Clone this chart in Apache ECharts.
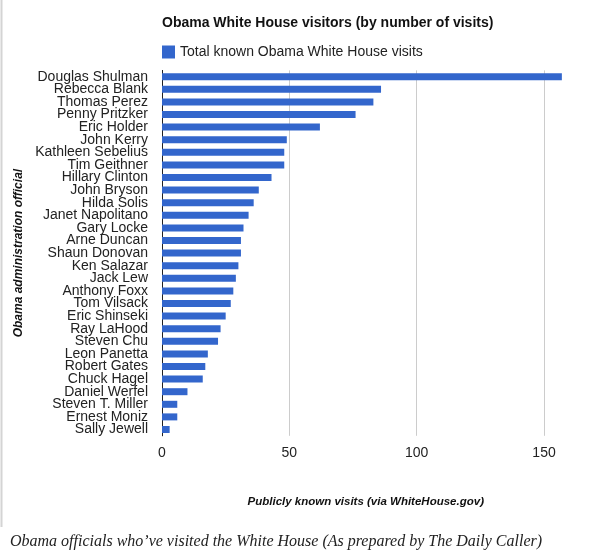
<!DOCTYPE html>
<html>
<head>
<meta charset="utf-8">
<script src="https://cdn.jsdelivr.net/npm/echarts@6/dist/echarts.min.js"></script>
<style>
    html,body{margin:0;padding:0;background:#fff;}
    #chart{width:599px;height:557px;}
</style>
</head>
<body>
<div id="chart"></div>
<script>
// officials, top to bottom
const officials = [
    'Douglas Shulman','Rebecca Blank','Thomas Perez','Penny Pritzker','Eric Holder',
    'John Kerry','Kathleen Sebelius','Tim Geithner','Hillary Clinton','John Bryson',
    'Hilda Solis','Janet Napolitano','Gary Locke','Arne Duncan','Shaun Donovan',
    'Ken Salazar','Jack Lew','Anthony Foxx','Tom Vilsack','Eric Shinseki',
    'Ray LaHood','Steven Chu','Leon Panetta','Robert Gates','Chuck Hagel',
    'Daniel Werfel','Steven T. Miller','Ernest Moniz','Sally Jewell'
]
const visits = [
    157, 86, 83, 76, 62,
    49, 48, 48, 43, 38,
    36, 34, 32, 31, 31,
    30, 29, 28, 27, 25,
    23, 22, 18, 17, 16,
    10, 6, 6, 3
]
const xTicks = [0, 50, 100, 150]
const xMax = 160

const seriesName = 'Total known Obama White House visits'
const titleText = 'Obama White House visitors (by number of visits)'
const caption = 'Obama officials who\u2019ve visited the White House (As prepared by The Daily Caller)'

const chart = echarts.init(document.getElementById('chart'))
const sans = '"Liberation Sans", Arial, sans-serif'

const option = {
    animation: false,
    textStyle: { fontFamily: sans },
    title: {
        text: titleText,
        left: 157,
        top: 11,
        textStyle: { fontFamily: sans, fontSize: 14, fontWeight: 'bold', color: '#111' }
    },
    legend: {
        data: [seriesName],
        left: 157,
        top: 40,
        icon: 'rect',
        itemWidth: 13,
        itemHeight: 13,
        textStyle: { fontFamily: sans, fontSize: 14, color: '#222' }
    },
    grid: {
        left: 162,
        right: 29.5,
        top: 70.4,
        bottom: 121.2,
        containLabel: false
    },
    xAxis: {
        type: 'value',
        min: 0,
        max: xMax,
        interval: 50,
        name: 'Publicly known visits (via WhiteHouse.gov)',
        nameLocation: 'middle',
        nameGap: 60,
        nameTextStyle: { fontFamily: sans, fontSize: 11.5, fontWeight: 'bold', fontStyle: 'italic', color: '#111' },
        axisLine: { show: false },
        axisTick: { show: false },
        axisLabel: {
            margin: 10,
            fontSize: 14,
            color: '#222',
            formatter: v => xTicks.includes(v) ? String(v) : ''
        },
        splitLine: {
            lineStyle: { color: ['#cccccc', '#cccccc', '#cccccc', '#cccccc', 'rgba(0,0,0,0)'] }
        }
    },
    yAxis: {
        type: 'category',
        inverse: true,
        data: officials,
        name: 'Obama administration official',
        nameLocation: 'middle',
        nameGap: 136,
        nameRotate: 90,
        nameTextStyle: { fontFamily: sans, fontSize: 12, fontWeight: 'bold', fontStyle: 'italic', color: '#111' },
        axisLine: { lineStyle: { color: '#222', width: 1 } },
        axisTick: { show: false },
        axisLabel: { interval: 0, margin: 14, fontSize: 14, color: '#222' }
    },
    series: [
        {
            name: seriesName,
            type: 'bar',
            barWidth: 7,
            itemStyle: { color: '#3366cc' },
            data: visits
        }
    ],
    graphic: [
        {
            type: 'line',
            shape: { x1: 1.5, y1: 0, x2: 1.5, y2: 527 },
            style: { stroke: '#d4d4d4', lineWidth: 2 }
        },
        {
            type: 'text',
            left: 10,
            top: 534,
            style: {
                text: caption,
                font: 'italic 16px "Liberation Serif", "DejaVu Serif", serif',
                fill: '#222'
            }
        }
    ]
}

chart.setOption(option)
</script>
</body>
</html>
